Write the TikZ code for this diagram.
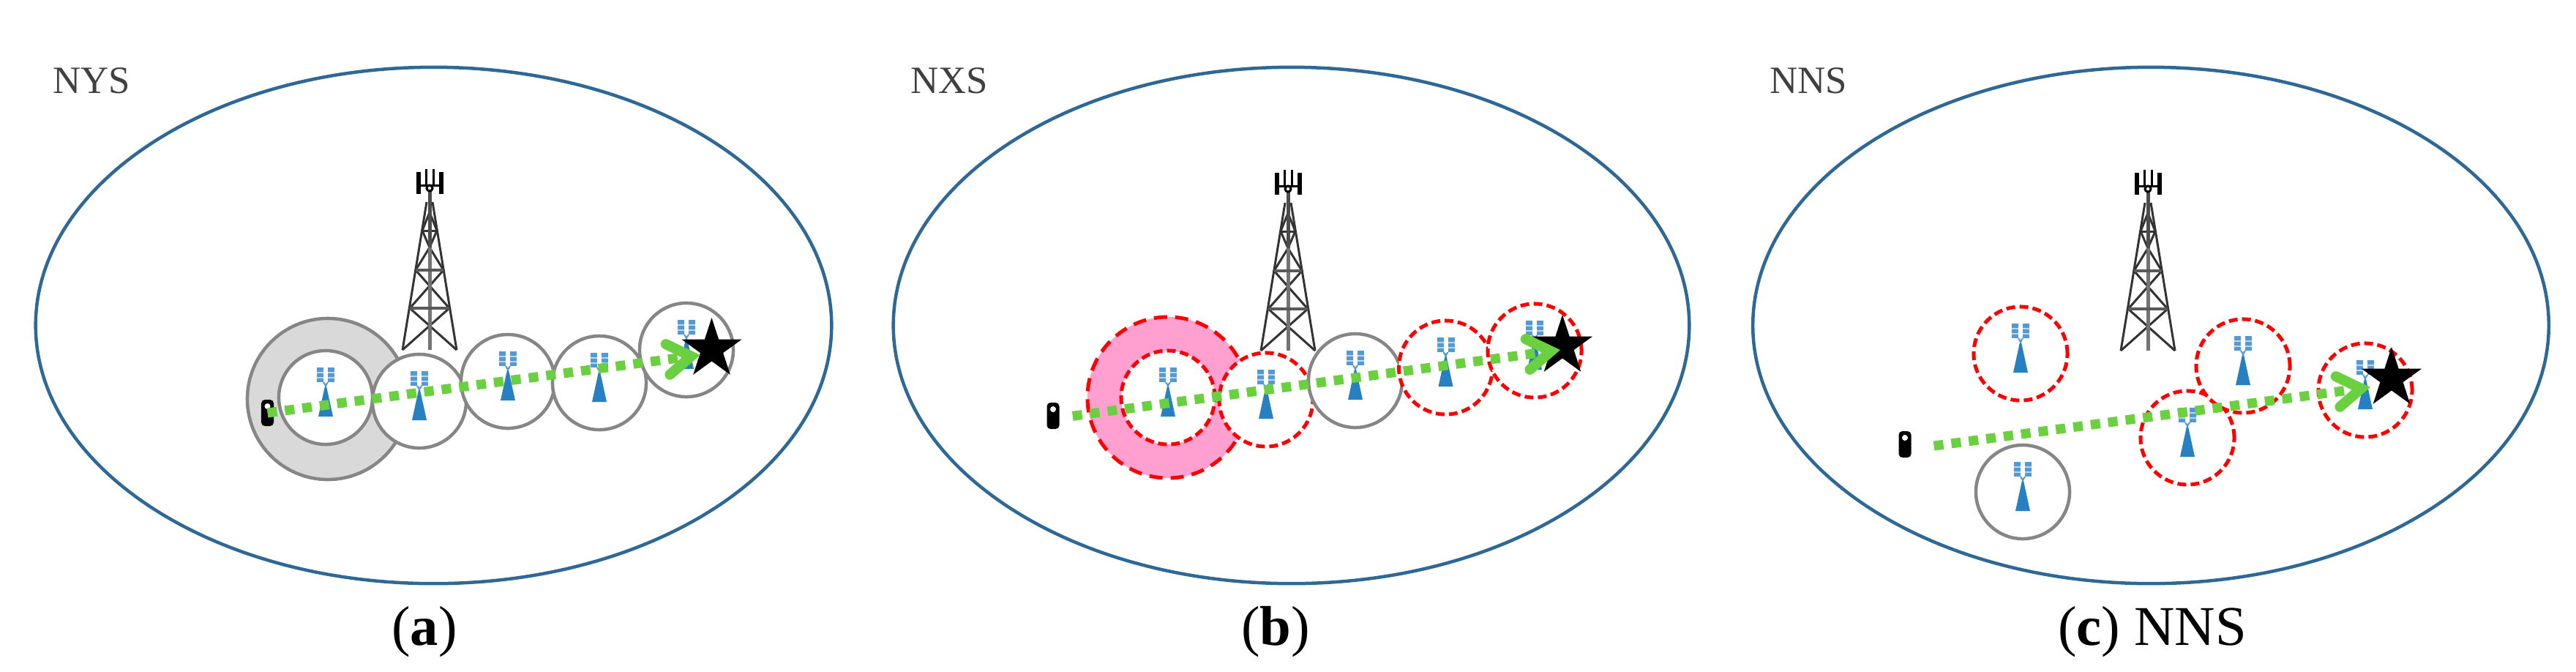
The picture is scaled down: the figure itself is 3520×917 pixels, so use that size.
\documentclass[tikz,border=0pt]{standalone}
\usepackage{fontspec}
\setmainfont{Liberation Serif}
\usepackage{tikz}
\usetikzlibrary{shapes.geometric, arrows.meta}
\definecolor{areacolor}{RGB}{46,104,150}
\definecolor{cellcolor}{RGB}{134,134,134}
\definecolor{zonecolor}{RGB}{217,217,217}
\definecolor{badzonecolor}{RGB}{255,160,208}
\definecolor{linkcolor}{RGB}{106,208,64}
\definecolor{mastcolor}{RGB}{38,128,194}
\definecolor{panelcolor}{RGB}{84,152,212}
\definecolor{namecolor}{RGB}{64,64,64}
\tikzset{
    area/.style={ellipse, draw=areacolor, line width=0.045cm, minimum width=10.87cm, minimum height=7.05cm, inner sep=0},
    cell/.style={circle, draw=cellcolor, fill=white, line width=0.045cm, minimum size=1.28cm, inner sep=0},
    badcell/.style={cell, draw=red, line width=0.05cm, dash pattern=on 0.12cm off 0.06cm},
    zone/.style={cell, fill=zonecolor, minimum size=2.2cm},
    badzone/.style={badcell, fill=badzonecolor, minimum size=2.2cm, dash pattern=on 0.18cm off 0.11cm},
    handset/.style={rectangle, rounded corners=0.05cm, fill=black, minimum width=0.17cm, minimum height=0.36cm, inner sep=0,
        path picture={\fill[white] ([yshift=0.09cm]path picture bounding box.center) circle (0.04cm);}},
    goal/.style={star, star points=5, star point ratio=2.618, fill=black, minimum size=0.86cm, inner sep=0},
    link/.style={draw=linkcolor, line width=0.13cm, dash pattern=on 0.13cm off 0.11cm,
        -{Straight Barb[length=0.32cm, width=0.42cm, line width=0.14cm, line cap=round, line join=miter]}},
    areaname/.style={font=\fontsize{15pt}{18pt}\selectfont, text=namecolor, anchor=base west, inner sep=0},
    caption/.style={font=\fontsize{21.8pt}{26pt}\selectfont, anchor=base, inner sep=0},
    pics/mast/.style={code={
        \fill[mastcolor] (0,-20) -- (10,26) -- (-10,26) -- cycle;
        \draw[panelcolor, line width=0.02cm] (-3,-21) -- (0,-16) -- (3,-21);
        \fill[panelcolor] (-12,-41) rectangle (-3,-21);
        \fill[panelcolor] (3,-41) rectangle (12,-21);
        \draw[white!60!panelcolor, line width=0.012cm] (-12,-34) -- (-3,-34) (-12,-27) -- (-3,-27) (3,-34) -- (12,-34) (3,-27) -- (12,-27);
    }},
    pics/tower/.style={code={
        \draw[black!80, line width=0.03cm] (-37,0) -- (-4,-202) (37,0) -- (4,-202);
        \draw[black!80, line width=0.03cm] (-37,0) -- (27,-57) -- (-19,-109) -- (0,-140) -- (19,-109) -- (-27,-57) -- (37,0);
        \draw[black!80, line width=0.03cm] (0,-140) -- (-10,-163) -- (0,-188) -- (10,-163) -- cycle;
        \draw[black!55, line width=0.05cm] (0,0) -- (0,-140);
        \draw[black!65, line width=0.04cm] (-27,-57) -- (27,-57) (-19,-109) -- (19,-109);
        \draw[black!80, line width=0.03cm] (-10,-163) -- (10,-163);
        \draw[black!70, line width=0.05cm] (0,-140) -- (0,-218);
        \draw[black, line width=0.065cm] (-15,-243) -- (-15,-213) (16,-243) -- (16,-213);
        \draw[black, line width=0.03cm] (-5,-247) -- (-5,-225) (5,-247) -- (5,-225) (-15,-225) -- (16,-225);
        \draw[black, line width=0.03cm] (0,-221) circle (4);
    }}
}

\begin{document}
\begin{tikzpicture}[x=0.01cm, y=-0.01cm]
\useasboundingbox (0,0) rectangle (3520,917);

% Panel a
\node[area] (areaA) at (592.5,444.5) {};
\node[areaname] (nameA) at (72,127) {NYS};
\node[zone] (zoneA) at (448,545) {};
\node[cell] (a1) at (445,543) {};
\node[cell] (a2) at (573,548) {};
\node[cell] (a3) at (694,521) {};
\node[cell] (a4) at (819,523) {};
\node[cell] (a5) at (938,478) {};
\pic at (587,478) {tower};
\pic at (a1) {mast};
\pic at (a2) {mast};
\pic at (a3) {mast};
\pic at (a4) {mast};
\pic at (a5) {mast};
\node[goal] (goalA) at (972.5,477) {};
\node[handset] (phoneA) at (365.5,564) {};
\coordinate (tipA) at (957,485);
\draw[link] (phoneA.center) -- (tipA);
\node[caption] (capA) at (580,881) {(\textbf{a})};

% Panel b
\node[area] (areaB) at (1764.5,444.5) {};
\node[areaname] (nameB) at (1244,127) {NXS};
\node[badzone] (zoneB) at (1596,543) {};
\node[badcell] (b1) at (1596,543) {};
\node[badcell] (b2) at (1730,546) {};
\node[cell] (b3) at (1852,520) {};
\node[badcell] (b4) at (1975.5,502) {};
\node[badcell] (b5) at (2097,479) {};
\pic at (1760,479) {tower};
\pic at (b1) {mast};
\pic at (b2) {mast};
\pic at (b3) {mast};
\pic at (b4) {mast};
\pic at (b5) {mast};
\node[goal] (goalB) at (2135,473) {};
\node[handset] (phoneB) at (1439,568) {};
\coordinate (tipB) at (2132,478);
\draw[link, shorten <=0.27cm] ([yshift=-0.04cm]phoneB.center) -- (tipB);
\node[caption] (capB) at (1743,881) {(\textbf{b})};

% Panel c
\node[area] (areaC) at (2939,444.5) {};
\node[areaname] (nameC) at (2418,127) {NNS};
\node[badcell] (c1) at (2761,483) {};
\node[badcell] (c2) at (2989,598) {};
\node[badcell] (c3) at (3065,500) {};
\node[badcell] (c4) at (3232,533) {};
\node[cell] (c5) at (2764,672) {};
\pic at (2935,479) {tower};
\pic at (c1) {mast};
\pic at (c2) {mast};
\pic at (c3) {mast};
\pic at (c4) {mast};
\pic at (c5) {mast};
\node[goal] (goalC) at (3268,517) {};
\node[handset] (phoneC) at (2603,607) {};
\coordinate (tipC) at (3239,529);
\draw[link, shorten <=0.40cm] ([yshift=-0.074cm]phoneC.center) -- (tipC);
\node[caption] (capC) at (2941,881) {(\textbf{c}) NNS};

\end{tikzpicture}
\end{document}
